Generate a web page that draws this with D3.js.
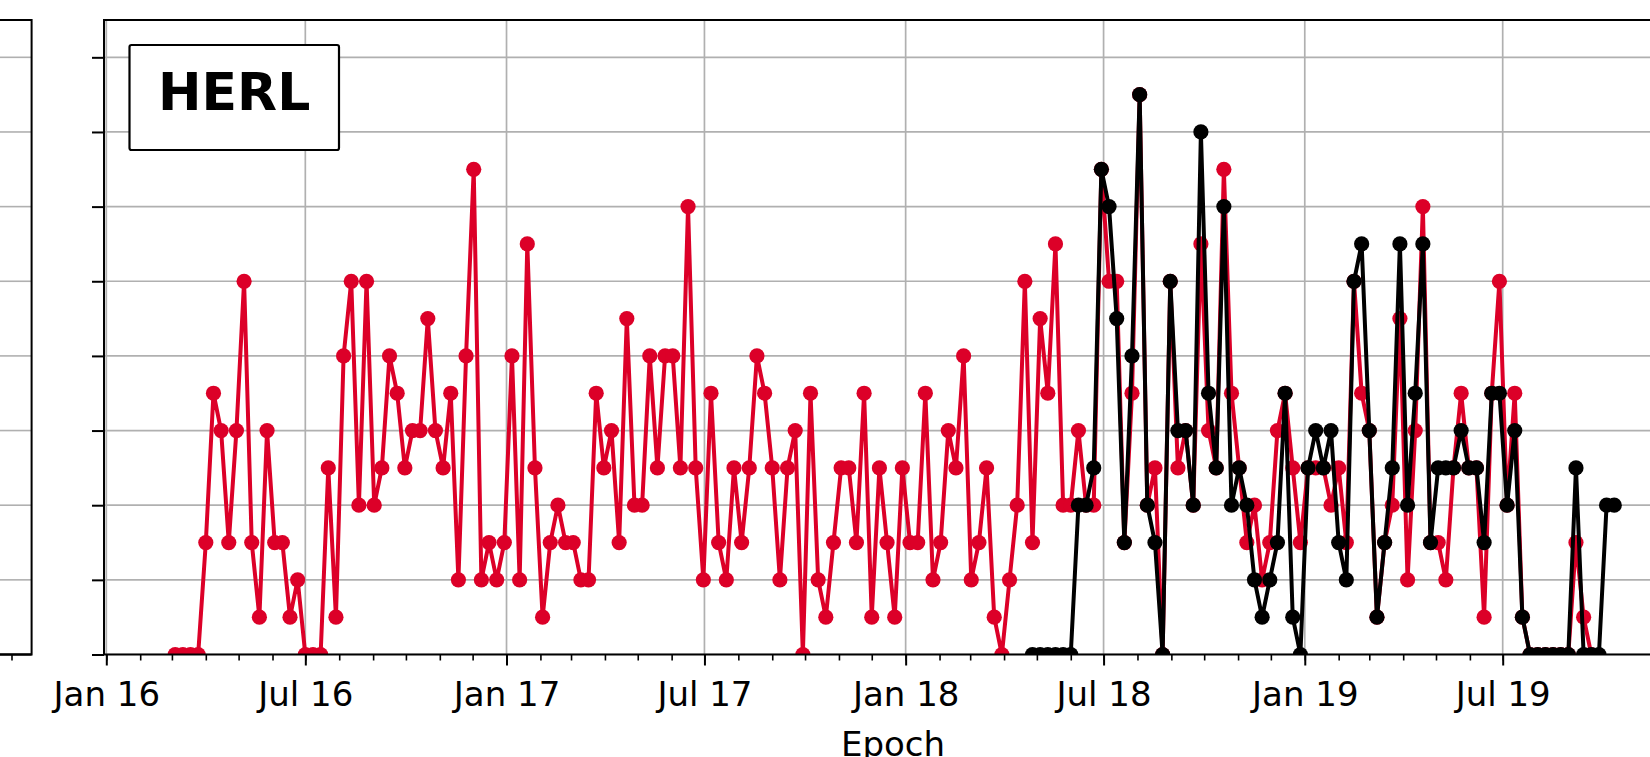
<!DOCTYPE html>
<html>
<head>
<meta charset="utf-8">
<script src="https://cdn.jsdelivr.net/npm/d3@7/dist/d3.min.js"></script>
<style>
  body { margin: 0; background: #fff; }
  svg { display: block; font-family: "DejaVu Sans", sans-serif; }
</style>
</head>
<body>
<script>
"use strict";

// weekly epochs, first one on 4 Mar 2016
const firstEpoch = new Date(2016, 2, 4);
// red series (counts per week)
const herl = [
  0, 0, 0, 0,
  3, 7, 6, 3, 6, 10, 3, 1, 6, 3,
  3, 1, 2, 0, 0, 0, 5, 1, 8, 10,
  4, 10, 4, 5, 8, 7, 5, 6, 6, 9,
  6, 5, 7, 2, 8, 13, 2, 3, 2, 3,
  8, 2, 11, 5, 1, 3, 4, 3, 3, 2,
  2, 7, 5, 6, 3, 9, 4, 4, 8, 5,
  8, 8, 5, 12, 5, 2, 7, 3, 2, 5,
  3, 5, 8, 7, 5, 2, 5, 6, 0, 7,
  2, 1, 3, 5, 5, 3, 7, 1, 5, 3,
  1, 5, 3, 3, 7, 2, 3, 6, 5, 8,
  2, 3, 5, 1, 0, 2, 4, 10, 3, 9,
  7, 11, 4, 4, 6, 4, 4, 13, 10, 10,
  3, 7, 15, 4, 5, 0, 10, 5, 6, 4,
  11, 6, 5, 13, 7, 5, 3, 4, 2, 3,
  6, 7, 5, 3, 5, 5, 5, 4, 5, 3,
  10, 7, 6, 1, 3, 4, 9, 2, 6, 12,
  3, 3, 2, 5, 7, 5, 5, 1, 7, 10,
  4, 7, 1, 0, 0, 0, 0, 0, 0, 3,
  1, 0
];
// black series starts 112 weeks after the first epoch
const blackOffset = 112;
const black = [
  0, 0, 0, 0, 0, 0,
  4, 4, 5, 13, 12, 9,
  3, 8, 15, 4, 3, 0, 10, 6, 6, 4,
  14, 7, 5, 12, 4, 5, 4, 2, 1, 2,
  3, 7, 1, 0, 5, 6, 5, 6, 3, 2,
  10, 11, 6, 1, 3, 5, 11, 4, 7, 11,
  3, 5, 5, 5, 6, 5, 5, 3, 7, 7,
  4, 6, 1, 0, 0, 0, 0, 0, 0, 5,
  0, 0, 0, 4, 4
];
const majorTicks = [
  new Date(2016, 0, 1), new Date(2016, 6, 1), new Date(2017, 0, 1), new Date(2017, 6, 1),
  new Date(2018, 0, 1), new Date(2018, 6, 1), new Date(2019, 0, 1), new Date(2019, 6, 1)
];
const yTicks = [0, 2, 4, 6, 8, 10, 12, 14, 16];
const legendLabel = "HERL";
const xLabel = "Epoch";

const W = 1650, H = 757;
const box = { left: 104, right: 1682, top: 20, bottom: 654.5 };
const red = "#dc0028";

const epochs = d3.range(Math.max(herl.length, blackOffset + black.length))
  .map(k => d3.timeDay.offset(firstEpoch, 7 * k));

const x = d3.scaleTime()
  .domain([new Date(2016, 0, 1), new Date(2019, 6, 1)])
  .range([106.3, 1502.7]);
const y = d3.scaleLinear().domain([0, 17]).range([box.bottom, box.top]);

const svg = d3.select("body").append("svg")
  .attr("width", W).attr("height", H);

svg.append("defs").append("clipPath").attr("id", "clip")
  .append("rect")
  .attr("x", box.left).attr("y", box.top)
  .attr("width", box.right - box.left).attr("height", box.bottom - box.top);

// neighbouring panel on the left, only its right edge shows
const side = svg.append("g");
side.selectAll("line.grid")
  .data(yTicks.slice(1))
  .enter().append("line")
  .attr("x1", 0).attr("x2", 31.6)
  .attr("y1", d => y(d)).attr("y2", d => y(d))
  .attr("stroke", "#b0b0b0").attr("stroke-width", 1.6);
side.append("path")
  .attr("d", `M0,${box.top}H31.6V${box.bottom}H0`)
  .attr("fill", "none").attr("stroke", "#000").attr("stroke-width", 2);
side.append("line")
  .attr("x1", 12).attr("x2", 12).attr("y1", box.bottom).attr("y2", box.bottom + 6)
  .attr("stroke", "#000").attr("stroke-width", 1.6);

// grid
const grid = svg.append("g").attr("clip-path", "url(#clip)");
grid.selectAll("line.h")
  .data(yTicks)
  .enter().append("line")
  .attr("x1", box.left).attr("x2", box.right)
  .attr("y1", d => y(d)).attr("y2", d => y(d))
  .attr("stroke", "#b0b0b0").attr("stroke-width", 1.7);
grid.selectAll("line.v")
  .data(majorTicks)
  .enter().append("line")
  .attr("x1", d => x(d)).attr("x2", d => x(d))
  .attr("y1", box.top).attr("y2", box.bottom)
  .attr("stroke", "#b0b0b0").attr("stroke-width", 1.7);

// series
const line = d3.line().x(d => x(d.date)).y(d => y(d.value));
const redData = herl.map((v, k) => ({ date: epochs[k], value: v }));
const blackData = black.map((v, k) => ({ date: epochs[blackOffset + k], value: v }));

const marks = svg.append("g").attr("clip-path", "url(#clip)");
[[redData, red], [blackData, "#000"]].forEach(([data, colour]) => {
  marks.append("path")
    .datum(data)
    .attr("d", line)
    .attr("fill", "none")
    .attr("stroke", colour)
    .attr("stroke-width", 4)
    .attr("stroke-linejoin", "round");
  marks.append("g").selectAll("circle")
    .data(data)
    .enter().append("circle")
    .attr("cx", d => x(d.date))
    .attr("cy", d => y(d.value))
    .attr("r", 7.6)
    .attr("fill", colour);
});

// spines
svg.append("path")
  .attr("d", `M${box.left},${box.bottom}V${box.top}H${box.right}`)
  .attr("fill", "none").attr("stroke", "#000").attr("stroke-width", 2);

// axes
const yAxis = svg.append("g")
  .attr("transform", `translate(${box.left},0)`)
  .call(d3.axisLeft(y).tickValues(yTicks).tickFormat("").tickSize(12).tickSizeOuter(0));
yAxis.select(".domain").remove();
yAxis.selectAll(".tick line").attr("stroke-width", 2);

const minor = svg.append("g")
  .attr("transform", `translate(0,${box.bottom})`)
  .call(d3.axisBottom(x).ticks(d3.timeMonth.every(1)).tickFormat("").tickSize(6).tickSizeOuter(0));
minor.select(".domain").remove();
minor.selectAll(".tick line").attr("stroke-width", 1.6);

const major = svg.append("g")
  .attr("transform", `translate(0,${box.bottom})`)
  .call(d3.axisBottom(x).tickValues(majorTicks).tickFormat(d3.timeFormat("%b %y"))
    .tickSize(11).tickPadding(16).tickSizeOuter(0));
major.select(".domain").remove();
major.selectAll(".tick line").attr("stroke-width", 2);
major.selectAll(".tick text")
  .attr("fill", "#000")
  .style("font-family", "DejaVu Sans")
  .style("font-size", "34px");

svg.append("line")
  .attr("x1", box.left).attr("x2", box.right)
  .attr("y1", box.bottom).attr("y2", box.bottom)
  .attr("stroke", "#000").attr("stroke-width", 2.2);
svg.append("line")
  .attr("x1", 0).attr("x2", 31.6)
  .attr("y1", box.bottom).attr("y2", box.bottom)
  .attr("stroke", "#000").attr("stroke-width", 2.2);

// axis title sits at the bottom edge, clipped as in the reference
svg.append("text")
  .attr("x", (box.left + box.right) / 2)
  .attr("y", 756)
  .attr("text-anchor", "middle")
  .style("font-size", "34px")
  .text(xLabel);

// legend box
const lg = svg.append("g");
lg.append("rect")
  .attr("x", 129.5).attr("y", 45).attr("width", 209.5).attr("height", 105)
  .attr("rx", 2)
  .attr("fill", "#fff").attr("stroke", "#000").attr("stroke-width", 2.2);
lg.append("text")
  .attr("x", 234.2).attr("y", 110)
  .attr("text-anchor", "middle")
  .style("font-size", "52px").style("font-weight", "bold")
  .text(legendLabel);
</script>
</body>
</html>
